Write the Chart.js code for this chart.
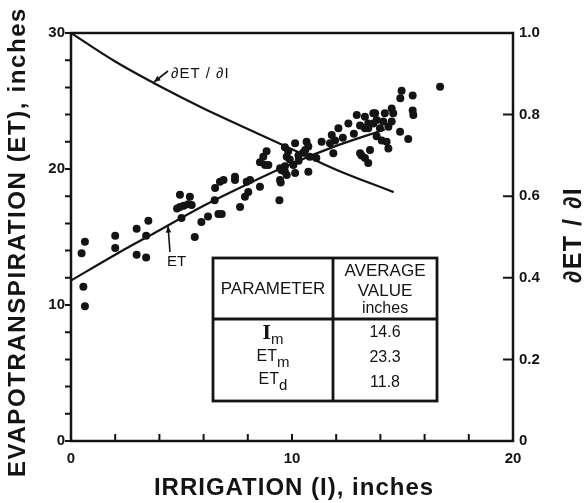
<!DOCTYPE html>
<html>
<head>
<meta charset="utf-8">
<script src="https://cdn.jsdelivr.net/npm/chart.js@4.4.1/dist/chart.umd.min.js"></script>
<style>
  html, body { margin: 0; padding: 0; background: #fff; }
  #wrap { width: 588px; height: 503px; }
</style>
</head>
<body>
<div id="wrap"><canvas id="grafico"></canvas></div>
<script>
// measured points (irrigation, inches / ET, inches)
const irrigation = [0.63, 0.48, 0.56, 0.63, 2.0, 2.0, 2.97, 2.97, 3.4, 3.5, 3.4, 4.93, 5.38, 4.8, 5.1, 5.3, 5.0, 4.93, 5.9, 6.2,
  5.6, 5.46, 6.67, 6.82, 6.5, 6.52, 6.74, 6.9, 7.42, 7.42, 7.95, 8.02, 7.87, 7.65, 8.55, 8.1, 8.85, 8.7, 8.55, 8.93,
  9.46, 9.68, 9.49, 9.43, 9.53, 9.68, 9.83, 9.76, 9.9, 10.14, 10.66, 10.74, 10.6, 10.29, 10.8, 9.68, 10.06, 9.46, 9.76, 10.14,
  10.74, 11.1, 11.34, 11.8, 11.95, 11.72, 12.1, 11.87, 12.55, 12.93, 13.08, 13.3, 13.45, 13.68, 13.83, 13.08, 13.3, 13.45, 13.53, 16.7,
  14.96, 14.9, 15.46, 15.46, 15.49, 14.51, 14.58, 14.2, 13.76, 13.3, 14.13, 14.51, 13.68, 13.98, 13.45, 14.36, 14.89, 15.26, 13.83, 14.06,
  14.28, 14.36, 13.15, 8.78, 10.5, 10.3, 12.3, 12.8];
const evapo = [14.65, 13.8, 11.35, 9.9, 15.1, 14.2, 15.6, 13.7, 13.5, 16.2, 15.1, 18.1, 17.96, 17.1, 17.3, 17.4, 16.4, 17.2, 16.1, 16.5,
  15.0, 17.35, 16.7, 16.7, 17.7, 18.6, 19.07, 19.2, 19.43, 19.2, 19.07, 18.3, 17.96, 17.2, 18.7, 19.2, 21.3, 20.9, 20.5, 20.3,
  20.05, 19.8, 19.0, 17.7, 19.9, 21.6, 21.3, 20.9, 20.7, 21.9, 22.0, 21.65, 21.4, 21.0, 20.9, 20.2, 20.3, 19.2, 19.56, 19.7,
  19.8, 20.8, 22.0, 22.5, 22.1, 21.9, 23.0, 21.15, 23.35, 23.97, 23.2, 23.0, 23.35, 24.1, 23.6, 21.15, 20.8, 20.45, 21.4, 26.05,
  25.75, 25.2, 25.4, 24.3, 23.97, 24.45, 24.1, 24.1, 24.1, 23.85, 23.5, 23.5, 23.35, 22.99, 22.99, 23.1, 22.74, 22.2, 22.4, 22.1,
  22.0, 21.5, 21.0, 20.3, 21.2, 20.6, 22.3, 22.6];

// fitted ET curve
const curvaI = [0, 2, 4, 6, 8, 10, 12, 14.2];
const curvaET = [11.8, 13.7, 15.5, 17.3, 18.9, 20.4, 21.7, 22.9];

// marginal curve dET/dI (right axis)
const pendI = [0, 2, 4, 6, 8, 10, 12, 14.6];
const pendValor = [1.0, 0.93, 0.87, 0.815, 0.765, 0.715, 0.665, 0.61];

// tick labels
const ticksX = [0, 10, 20];
const ticksY = [0, 10, 20, 30];
const ticksY2 = [0, 0.2, 0.4, 0.6, 0.8, 1.0];

// table
const parametros = [['I', 'm'], ['ET', 'm'], ['ET', 'd']];
const promedios = ['14.6', '23.3', '11.8'];

const NEGRO = '#141414';
const FUENTE = '"Liberation Sans", Arial, sans-serif';

const puntos = irrigation.map((v, i) => ({ x: v, y: evapo[i] }));
const curva = curvaI.map((v, i) => ({ x: v, y: curvaET[i] }));
const pendiente = pendI.map((v, i) => ({ x: v, y: pendValor[i] }));

function flecha(ctx, x1, y1, x2, y2) {
    ctx.beginPath();
    ctx.moveTo(x1, y1);
    ctx.lineTo(x2, y2);
    ctx.stroke();
    const ang = Math.atan2(y2 - y1, x2 - x1);
    ctx.beginPath();
    ctx.moveTo(x2, y2);
    ctx.lineTo(x2 - 7 * Math.cos(ang - 0.4), y2 - 7 * Math.sin(ang - 0.4));
    ctx.lineTo(x2 - 7 * Math.cos(ang + 0.4), y2 - 7 * Math.sin(ang + 0.4));
    ctx.closePath();
    ctx.fill();
}

const extras = {
    id: 'extras',
    afterDraw(chart) {
        const ctx = chart.ctx;
        const a = chart.chartArea;
        const sx = chart.scales.x, sy = chart.scales.y, sy2 = chart.scales.y2;
        ctx.save();
        ctx.strokeStyle = NEGRO;
        ctx.fillStyle = NEGRO;

        // marco
        ctx.lineWidth = 2.5;
        ctx.strokeRect(a.left, a.top, a.right - a.left, a.bottom - a.top);

        // ticks
        ctx.lineWidth = 2;
        ctx.beginPath();
        for (let v = 0; v <= 20; v += 2) {
            const px = sx.getPixelForValue(v);
            ctx.moveTo(px, a.bottom);
            ctx.lineTo(px, a.bottom - 7);
        }
        for (let v = 0; v <= 30; v += 2) {
            const py = sy.getPixelForValue(v);
            ctx.moveTo(a.left, py);
            ctx.lineTo(a.left - 6, py);
        }
        ticksY2.forEach(v => {
            const py = sy2.getPixelForValue(v);
            ctx.moveTo(a.right, py);
            ctx.lineTo(a.right - 10, py);
        });
        ctx.stroke();

        // titulos de ejes
        ctx.textAlign = 'center';
        ctx.textBaseline = 'middle';
        ctx.font = 'bold 24px ' + FUENTE;
        ctx.letterSpacing = '1px';
        ctx.fillText('IRRIGATION (I), inches', (a.left + a.right) / 2 + 2, 488);
        ctx.save();
        ctx.translate(18, 242);
        ctx.rotate(-Math.PI / 2);
        ctx.letterSpacing = '1.6px';
        ctx.fillText('EVAPOTRANSPIRATION (ET), inches', 0, 0);
        ctx.restore();
        ctx.save();
        ctx.translate(574, 235);
        ctx.rotate(-Math.PI / 2);
        ctx.font = 'bold 25px ' + FUENTE;
        ctx.letterSpacing = '1.5px';
        ctx.fillText('∂ET / ∂I', 0, 0);
        ctx.restore();
        ctx.letterSpacing = '0px';

        // anotaciones
        ctx.lineWidth = 1.6;
        flecha(ctx, 168, 71, 154, 82);
        ctx.font = '15px ' + FUENTE;
        ctx.textAlign = 'left';
        ctx.letterSpacing = '1px';
        ctx.fillText('∂ET / ∂I', 171, 74);
        ctx.letterSpacing = '0px';
        flecha(ctx, 170, 252, 168, 226);
        ctx.fillText('ET', 167, 262);

        // tabla
        const tL = 213, tR = 437, tT = 258, tB = 401, tC = 333, tH = 319;
        ctx.fillStyle = '#fff';
        ctx.fillRect(tL, tT, tR - tL, tB - tT);
        ctx.fillStyle = NEGRO;
        ctx.lineWidth = 2.8;
        ctx.strokeRect(tL, tT, tR - tL, tB - tT);
        ctx.beginPath();
        ctx.moveTo(tC, tT); ctx.lineTo(tC, tB);
        ctx.moveTo(tL, tH); ctx.lineTo(tR, tH);
        ctx.stroke();

        ctx.textAlign = 'center';
        ctx.font = '17px ' + FUENTE;
        ctx.fillText('PARAMETER', (tL + tC) / 2, 289);
        ctx.fillText('AVERAGE', (tC + tR) / 2, 271);
        ctx.fillText('VALUE', (tC + tR) / 2, 291);
        ctx.font = '16px ' + FUENTE;
        ctx.fillText('inches', (tC + tR) / 2, 309);

        const filas = [336, 359, 382];
        parametros.forEach((p, i) => {
            const y = filas[i];
            const grande = p[0] === 'I' ? 'bold 18px "DejaVu Serif", serif' : '16px ' + FUENTE;
            ctx.font = grande;
            const w1 = ctx.measureText(p[0]).width;
            ctx.font = '15px ' + FUENTE;
            const w2 = ctx.measureText(p[1]).width;
            const x0 = (tL + tC) / 2 - (w1 + w2) / 2;
            ctx.textAlign = 'left';
            ctx.font = grande;
            ctx.fillText(p[0], x0, y - 2);
            ctx.font = '15px ' + FUENTE;
            ctx.fillText(p[1], x0 + w1, y + 4);
            ctx.textAlign = 'center';
            ctx.font = '16px ' + FUENTE;
            ctx.fillText(promedios[i], (tC + tR) / 2, [333, 358, 383][i]);
        });
        ctx.restore();
    }
};

new Chart(document.getElementById('grafico').getContext('2d'), {
    data: {
        datasets: [{
            type: 'scatter',
            data: puntos,
            pointRadius: 4,
            pointBackgroundColor: NEGRO,
            pointBorderWidth: 0,
            xAxisID: 'x',
            yAxisID: 'y'
        }, {
            type: 'line',
            data: curva,
            borderColor: NEGRO,
            borderWidth: 2.2,
            pointRadius: 0,
            cubicInterpolationMode: 'monotone',
            xAxisID: 'x',
            yAxisID: 'y'
        }, {
            type: 'line',
            data: pendiente,
            borderColor: NEGRO,
            borderWidth: 2.2,
            pointRadius: 0,
            cubicInterpolationMode: 'monotone',
            xAxisID: 'x',
            yAxisID: 'y2'
        }]
    },
    options: {
        responsive: true,
        maintainAspectRatio: false,
        animation: false,
        devicePixelRatio: 1,
        layout: { padding: { top: 33, left: 0, right: 0, bottom: 0 } },
        plugins: { legend: { display: false }, tooltip: { enabled: false } },
        scales: {
            x: {
                type: 'linear', position: 'bottom', min: 0, max: 20,
                afterBuildTicks: s => { s.ticks = ticksX.map(v => ({ value: v })); },
                afterFit: s => { s.height = 62; },
                grid: { display: false, drawTicks: false },
                border: { display: false },
                ticks: { padding: 9, color: NEGRO, font: { family: FUENTE, size: 15, weight: 'bold' }, maxRotation: 0 }
            },
            y: {
                type: 'linear', position: 'left', min: 0, max: 30,
                afterBuildTicks: s => { s.ticks = ticksY.map(v => ({ value: v })); },
                afterFit: s => { s.width = 71; },
                grid: { display: false, drawTicks: false },
                border: { display: false },
                ticks: { padding: 6, color: NEGRO, font: { family: FUENTE, size: 15, weight: 'bold' } }
            },
            y2: {
                type: 'linear', position: 'right', min: 0, max: 1,
                afterBuildTicks: s => { s.ticks = ticksY2.map(v => ({ value: v })); },
                afterFit: s => { s.width = 75; },
                grid: { display: false, drawTicks: false },
                border: { display: false },
                ticks: {
                    padding: 6, color: NEGRO, font: { family: FUENTE, size: 15, weight: 'bold' },
                    callback: v => v === 0 ? '0' : v.toFixed(1)
                }
            }
        }
    },
    plugins: [extras]
});
</script>
</body>
</html>
